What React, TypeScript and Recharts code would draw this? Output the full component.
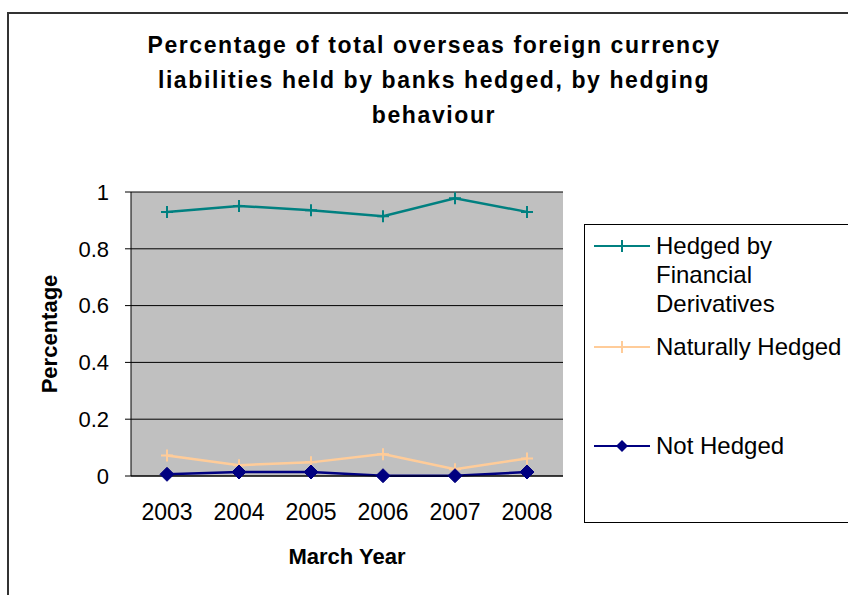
import {
  ComposedChart,
  Line,
  XAxis,
  YAxis,
  CartesianGrid,
  ReferenceArea,
  Legend,
} from "recharts";

const years = ["2003", "2004", "2005", "2006", "2007", "2008"];
const hedgedByDerivatives = [0.93, 0.951, 0.936, 0.915, 0.978, 0.93];
const naturallyHedged = [0.072, 0.038, 0.048, 0.077, 0.024, 0.062];
const notHedged = [0.006, 0.014, 0.014, 0.001, 0.001, 0.014];
const yTicks = [0, 0.2, 0.4, 0.6, 0.8, 1];
const titleLines = [
  "Percentage of total overseas foreign currency",
  "liabilities held by banks hedged, by hedging",
  "behaviour",
];

const data = years.map((year, i) => ({
  year,
  hedged: hedgedByDerivatives[i],
  natural: naturallyHedged[i],
  none: notHedged[i],
}));

// tick marks sit between the categories, like Excel
const edgeTicks = [0, ...years.map((_, i) => i + 1)];

// axis ids: the edge-tick axis has to sit right under the plot
const EDGE_AXIS = "a-edges";
const CAT_AXIS = "b-years";

const FONT = '"Liberation Sans", Arial, sans-serif';

const cross = (color: string) => (p: any) => (
  <path
    key={`c-${p.index}`}
    d={`M${p.cx - 6},${p.cy}H${p.cx + 6}M${p.cx},${p.cy - 6}V${p.cy + 6}`}
    stroke={color}
    strokeWidth={2}
    fill="none"
  />
);

const diamond = (color: string) => (p: any) => (
  <path
    key={`d-${p.index}`}
    d={`M${p.cx},${p.cy - 7}L${p.cx + 7},${p.cy}L${p.cx},${p.cy + 7}L${p.cx - 7},${p.cy}Z`}
    fill={color}
    stroke={color}
  />
);

const entryGaps: Record<string, number> = { hedged: 6, natural: 14, none: 70 };

function LegendBox({ payload }: any) {
  return (
    <div
      style={{
        width: "100%",
        height: "100%",
        boxSizing: "border-box",
        border: "1px solid #000",
        background: "#fff",
        fontFamily: FONT,
        fontSize: 24,
        lineHeight: "29px",
        color: "#000",
      }}
    >
      {(payload || []).map((e: any) => (
        <div
          key={e.dataKey}
          style={{ display: "flex", marginTop: entryGaps[e.dataKey], paddingLeft: 9 }}
        >
          <svg width={56} height={29} style={{ flex: "none" }}>
            <line x1={0} y1={15} x2={56} y2={15} stroke={e.color} strokeWidth={2} />
            {e.dataKey === "none" ? (
              <path d="M28,9L34,15L28,21L22,15Z" fill={e.color} />
            ) : (
              <path d="M28,9V21M22,15H34" stroke={e.color} strokeWidth={2} />
            )}
          </svg>
          <div style={{ marginLeft: 6, width: 195 }}>{e.value}</div>
        </div>
      ))}
    </div>
  );
}

export default function App() {
  return (
    <div
      style={{
        position: "fixed",
        left: 0,
        top: 0,
        width: 848,
        height: 595,
        overflow: "hidden",
        background: "#fff",
        fontFamily: FONT,
      }}
    >
      <div
        style={{
          position: "absolute",
          left: 7,
          top: 12,
          width: 900,
          height: 700,
          border: "2px solid #333",
        }}
      />
      <div
        style={{
          position: "absolute",
          left: 134,
          top: 28,
          width: 600,
          textAlign: "center",
          fontWeight: "bold",
          fontSize: 23,
          letterSpacing: 1.6,
          lineHeight: "35px",
          color: "#000",
        }}
      >
        {titleLines.map((t) => (
          <div key={t}>{t}</div>
        ))}
      </div>
      <div style={{ position: "absolute", left: 0, top: 0 }}>
        <ComposedChart
          width={848}
          height={595}
          data={data}
          margin={{ top: 192, right: 285, bottom: 71, left: 0 }}
        >
          <CartesianGrid xAxisId={CAT_AXIS} vertical={false} stroke="#000" fill="#C0C0C0" />
          <ReferenceArea
            xAxisId={EDGE_AXIS}
            x1={0}
            x2={years.length}
            y1={0}
            y2={1}
            fill="none"
            stroke="#808080"
            strokeWidth={2}
          />
          <XAxis
            xAxisId={EDGE_AXIS}
            type="number"
            domain={[0, years.length]}
            ticks={edgeTicks}
            tick={false}
            tickSize={6}
            height={8}
            stroke="#000"
          />
          <XAxis
            xAxisId={CAT_AXIS}
            dataKey="year"
            scale="band"
            axisLine={false}
            tickLine={false}
            height={40}
            tickMargin={14}
            tick={{ fill: "#000", fontSize: 23, fontFamily: FONT }}
            label={{
              value: "March Year",
              position: "bottom",
              offset: 24,
              fill: "#000",
              fontSize: 22,
              fontWeight: "bold",
              fontFamily: FONT,
            }}
          />
          <YAxis
            width={131}
            domain={[0, 1]}
            ticks={yTicks}
            tickSize={6}
            tickMargin={16}
            stroke="#000"
            tick={{ fill: "#000", fontSize: 22, fontFamily: FONT }}
            label={{
              value: "Percentage",
              angle: -90,
              position: "center",
              dx: -16,
              fill: "#000",
              fontSize: 22,
              fontWeight: "bold",
              fontFamily: FONT,
            }}
          />
          <Legend
            layout="vertical"
            align="center"
            verticalAlign="middle"
            content={<LegendBox />}
            wrapperStyle={{ left: 584, top: 224, width: 300, height: 299 }}
          />
          <Line
            xAxisId={CAT_AXIS}
            dataKey="hedged"
            name="Hedged by Financial Derivatives"
            stroke="#008080"
            strokeWidth={2.5}
            dot={cross("#008080")}
            isAnimationActive={false}
          />
          <Line
            xAxisId={CAT_AXIS}
            dataKey="natural"
            name="Naturally Hedged"
            stroke="#FFCC99"
            strokeWidth={2.5}
            dot={cross("#FFCC99")}
            isAnimationActive={false}
          />
          <Line
            xAxisId={CAT_AXIS}
            dataKey="none"
            name="Not Hedged"
            stroke="#000080"
            strokeWidth={2.5}
            dot={diamond("#000080")}
            isAnimationActive={false}
          />
        </ComposedChart>
      </div>
    </div>
  );
}
